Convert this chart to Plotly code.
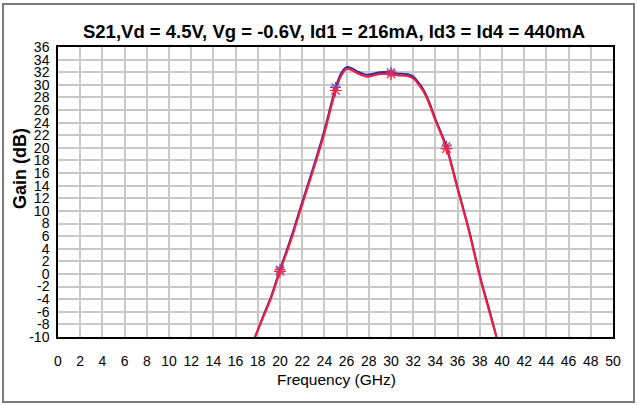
import plotly.graph_objects as go

# Frequency (GHz) and gain (dB)
freq = [17.75, 18.5, 19.25, 20, 21, 22, 23, 24, 25, 25.5, 26, 26.5, 27, 27.8,
        28.5, 29, 30, 30.5, 31.5, 32, 32.5, 33, 33.5, 34, 35, 36, 37, 38, 39, 39.5]
gain_red = [-10, -6.8, -3.6, 0.4, 5.4, 11.0, 16.5, 22.3, 29.0, 31.4, 32.5, 32.3,
            31.8, 31.3, 31.5, 31.7, 31.7, 31.5, 31.4, 31.0, 30.0, 28.7, 26.7,
            24.3, 19.9, 13.4, 6.9, -0.5, -6.9, -10]
gain_blue = [-10, -6.6, -3.3, 0.7, 5.8, 11.4, 16.9, 22.8, 29.5, 31.8, 32.8, 32.6,
             32.1, 31.6, 31.8, 32.0, 32.0, 31.8, 31.7, 31.3, 30.3, 29.0, 27.0,
             24.6, 20.2, 13.7, 7.2, -0.2, -6.6, -10]

marker_freq = [20, 25, 30, 35]
marker_red = [0.4, 29.1, 31.7, 19.9]
marker_blue = [0.7, 29.6, 32.0, 20.3]

xticks = list(range(0, 51, 2))
yticks = list(range(-10, 37, 2))

fig = go.Figure()
fig.add_trace(go.Scatter(x=freq, y=gain_blue, mode="lines", line=dict(color="#2b2b9e", width=2, shape="spline"),
                         showlegend=False, hoverinfo="skip"))
fig.add_trace(go.Scatter(x=freq, y=gain_red, mode="lines", line=dict(color="#ff1a3c", width=2, shape="spline"),
                         showlegend=False, hoverinfo="skip"))
fig.add_trace(go.Scatter(x=marker_freq, y=marker_blue, mode="markers",
                         marker=dict(symbol="asterisk-open", size=9, color="#5050c0", line=dict(width=1.2, color="#5050c0")),
                         showlegend=False))
fig.add_trace(go.Scatter(x=marker_freq, y=marker_red, mode="markers",
                         marker=dict(symbol="asterisk-open", size=10, color="#ff2040", line=dict(width=1.2, color="#ff2040")),
                         showlegend=False))

L, R, T, B = 58, 24, 47, 68
W, H = 637, 405
pw, ph = W - L - R, H - T - B

def px(x):
    return (x - L) / pw

def py(y):
    return (H - B - y) / ph

fig.add_shape(type="rect", xref="paper", yref="paper",
              x0=px(3), x1=px(634), y0=py(402), y1=py(4),
              line=dict(color="#7a7a7a", width=2), layer="below")

fig.add_annotation(text="<b>Gain (dB)</b>", xref="paper", yref="paper",
                   x=px(20), y=py(169), textangle=-90, showarrow=False,
                   xanchor="center", yanchor="middle", font=dict(size=18, color="black"))
fig.add_annotation(text="Frequency (GHz)", xref="paper", yref="paper",
                   x=px(336), y=py(379), showarrow=False,
                   xanchor="center", yanchor="middle", font=dict(size=15.5, color="black"))

fig.update_layout(
    width=W, height=H,
    margin=dict(l=L, r=R, t=T, b=B, autoexpand=False),
    paper_bgcolor="white", plot_bgcolor="white",
    font=dict(family="Liberation Sans, Arial", color="black"),
    title=dict(text="<b>S21,Vd = 4.5V, Vg = -0.6V, Id1 = 216mA, Id3 = Id4 = 440mA</b>",
               x=334 / W, xanchor="center", y=1 - 32 / H, yanchor="middle",
               font=dict(size=18.5, family="Liberation Sans, Arial")),
    xaxis=dict(range=[0, 50], tickvals=xticks, ticktext=[str(v) for v in xticks],
               showgrid=True, gridcolor="#c8c8c8", gridwidth=1.5,
               showline=True, linecolor="black", linewidth=1.5, mirror=True,
               ticks="outside", ticklen=0, ticklabelstandoff=10, automargin=False,
               tickfont=dict(size=14), zeroline=False),
    yaxis=dict(range=[-10, 36], tickvals=yticks, ticktext=[str(v) for v in yticks],
               showgrid=True, gridcolor="#c8c8c8", gridwidth=1.5,
               showline=True, linecolor="black", linewidth=1.5, mirror=True,
               ticks="outside", ticklen=0, ticklabelstandoff=4, automargin=False,
               tickfont=dict(size=14), zeroline=False),
)

fig.write_html("out.html", config={"displayModeBar": False},
               post_script="document.body.style.margin='0';")
